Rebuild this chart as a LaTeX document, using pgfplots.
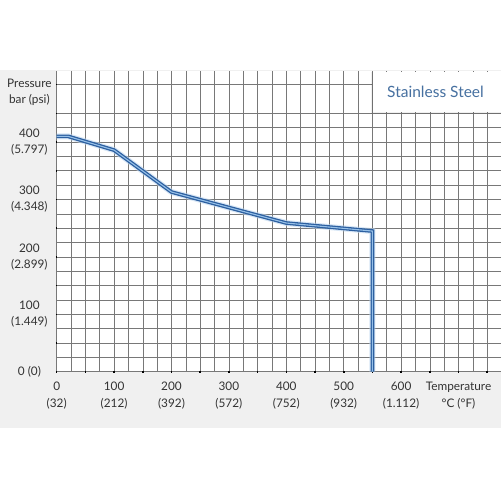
\documentclass[border=0pt]{standalone}
\usepackage{pgfplots}
\pgfplotsset{compat=1.18}
\usepackage{pgfplotstable}
\usepackage{fontspec}
\setmainfont{Lato}

\definecolor{lineblue}{RGB}{44,95,160}
\definecolor{lineinner}{RGB}{150,192,232}
\definecolor{glowblue}{RGB}{190,215,240}
\definecolor{titleblue}{RGB}{70,112,160}
\definecolor{panel}{RGB}{240,240,240}
\definecolor{gridgray}{RGB}{120,120,120}

% pressure rating vs temperature, stainless steel
\pgfplotstableread{
T P
0 410
20 410
100 386
200 313
400 259
550 245
550 0
}\steeldata

\begin{document}
\begin{tikzpicture}[x=1pt, y=1pt]
  % page frame, 1pt = 1px of the reference
  \useasboundingbox (-56.7,-129.3) rectangle (444.3,371.7);
  \fill[panel] (-56.7,-56.3) rectangle (444.3,301.7);

  \begin{axis}[
      at={(0,0)}, anchor=south west,
      x=0.574pt, y=0.574pt,
      xmin=0, xmax=774,
      ymin=0, ymax=524,
      axis line style={draw=none},
      axis background/.style={fill=white},
      xtick={0,50,...,750},
      ytick={0,50,...,450},
      minor x tick num=1,
      minor y tick num=1,
      grid=both,
      major grid style={gridgray, line width=0.6pt},
      minor grid style={gridgray, line width=0.6pt},
      xtick pos=lower, ytick pos=left,
      tick align=center,
      major tick length=1.6pt,
      minor tick length=0pt,
      major tick style={black, line width=1.6pt},
      xticklabels={{0\\(32)},{},{100\\(212)},{},{200\\(392)},{},{300\\(572)},{},
        {400\\(752)},{},{500\\(932)},{},{600\\(1.112)},{},{Temperature\\°C (°F)},{}},
      yticklabels={{0 (0)},{},{100\\(1.449)},{},{200\\(2.899)},{},{300\\(4.348)},{},
        {400\\(5.797)},{}},
      extra y ticks={500},
      extra y tick labels={{Pressure\\bar (psi)}},
      extra y tick style={yticklabel style={yshift=-7.5pt}},
      xticklabel style={font=\fontsize{11.8}{17}\selectfont, align=center,
        text=black!80, yshift=-6pt},
      yticklabel style={font=\fontsize{11.8}{16}\selectfont, align=center,
        text=black!80, anchor=center, xshift=-26.5pt},
    ]
    \addplot[glowblue, line width=6pt, opacity=0.6, line join=miter] table[x=T, y=P] {\steeldata};
    \addplot[lineblue, line width=1.3pt, double=lineinner, double distance=1.1pt,
      line join=miter] table[x=T, y=P] {\steeldata};
  \end{axis}

  % title box
  \fill[black, opacity=0.06] (314.3,257.7) rectangle (444.3,299.7);
  \fill[white] (316.3,259.7) rectangle (444.3,299.7);
  \node[text=titleblue, font=\fontsize{15.5}{17}\selectfont] at (378.8,279.7) {Stainless Steel};
\end{tikzpicture}
\end{document}
